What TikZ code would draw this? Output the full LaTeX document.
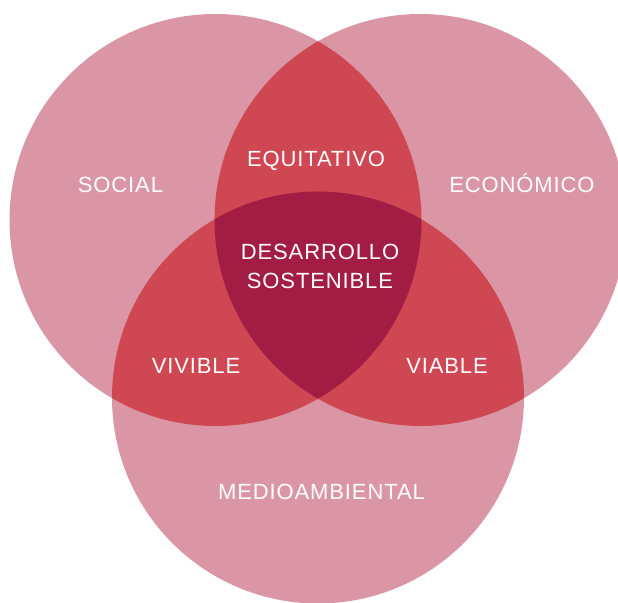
\documentclass[tikz,border=0pt]{standalone}
\usepackage{fontspec}
\setmainfont{Liberation Sans}[LetterSpace=4]
\definecolor{rosa}{HTML}{DB96A6}
\definecolor{rojo}{HTML}{CF4753}
\definecolor{granate}{HTML}{A31C44}

\begin{document}
\begin{tikzpicture}[x=0.5pt,y=-0.5pt,
    etiqueta/.style={text=white,inner sep=0pt,font=\fontsize{11}{14.65}\selectfont}]
\useasboundingbox (0,0) rectangle (618,603);
\coordinate (social) at (215.5,220);
\coordinate (economico) at (420.5,220);
\coordinate (medio) at (318,397.5);
\foreach \c in {social,economico,medio}
    \fill[rosa] (\c) circle (206);
\begin{scope}
    \clip (social) circle (206);
    \fill[rojo] (economico) circle (206);
    \fill[rojo] (medio) circle (206);
\end{scope}
\begin{scope}
    \clip (economico) circle (206);
    \fill[rojo] (medio) circle (206);
\end{scope}
\begin{scope}
    \clip (social) circle (206);
    \clip (economico) circle (206);
    \fill[granate] (medio) circle (206);
\end{scope}
\node[etiqueta,anchor=base] (tsocial) at (120.5,192.3) {SOCIAL};
\node[etiqueta,anchor=base] (teconomico) at (522,192.3) {ECONÓMICO};
\node[etiqueta,anchor=base] (tmedio) at (321.5,499.3) {MEDIOAMBIENTAL};
\node[etiqueta,anchor=base] (tequitativo) at (316,166.7) {EQUITATIVO};
\node[etiqueta,anchor=base] (tvivible) at (196,374) {VIVIBLE};
\node[etiqueta,anchor=base] (tviable) at (447,374) {VIABLE};
\node[etiqueta,align=center] (tdesarrollo) at (320,266.3) {DESARROLLO\\SOSTENIBLE};
\end{tikzpicture}
\end{document}
